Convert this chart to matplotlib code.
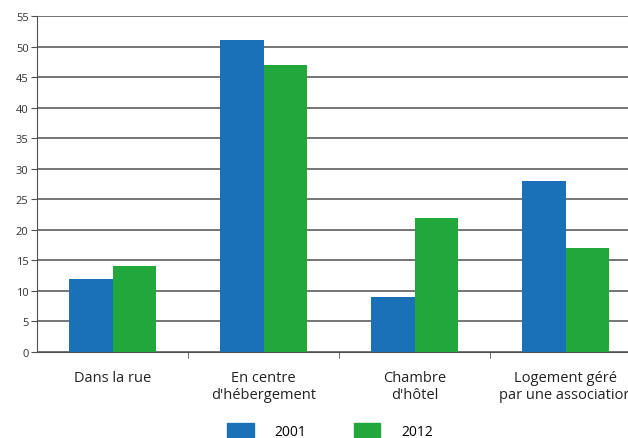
import numpy as np
import matplotlib.pyplot as plt
from matplotlib.patches import Patch

categories = ["Dans la rue", "En centre\nd'hébergement", "Chambre\nd'hôtel",
              "Logement géré\npar une association"]
years = ["2001", "2012"]
values_2001 = [12, 51, 9, 28]
values_2012 = [14, 47, 22, 17]

blue = '#1a71b8'
green = '#22a83a'
grid_col = '#505050'

plt.rcParams['font.family'] = ['Open Sans', 'DejaVu Sans']

fig = plt.figure(figsize=(6.28, 4.39), dpi=100)
# the plot area runs past the right edge of the figure
ax = fig.add_axes([37 / 628, 86 / 439, 604 / 628, 336 / 439])

x = np.arange(len(categories))
w = 0.29
ax.bar(x - w / 2, values_2001, w, color=blue, zorder=3)
ax.bar(x + w / 2, values_2012, w, color=green, zorder=3)

ax.set_xlim(-0.5, len(categories) - 0.5)
ax.set_ylim(0, 55)
ax.set_yticks(range(0, 56, 5))
ax.yaxis.grid(True, color=grid_col, linewidth=1.1, zorder=0)
ax.tick_params(axis='y', length=4, color=grid_col, labelsize=8,
               labelcolor='#333333', pad=2)

ax.set_xticks(x)
ax.set_xticklabels(categories, fontsize=10.5, color='#222222', linespacing=1.15)
ax.tick_params(axis='x', length=0, pad=13)
ax.set_xticks(np.arange(0.5, len(categories) - 0.5), minor=True)
ax.tick_params(axis='x', which='minor', length=4, color=grid_col)

for side in ['top', 'right']:
    ax.spines[side].set_visible(False)
ax.spines['left'].set_color(grid_col)
ax.spines['bottom'].set_color(grid_col)

handles = [Patch(color=blue), Patch(color=green)]
fig.legend(handles, years, loc='center', bbox_to_anchor=(330 / 628, 1 - 432 / 439),
           ncol=2, frameon=False, fontsize=10, handlelength=1.9, handleheight=1.4,
           handletextpad=1.5, columnspacing=3.4)

fig.savefig('out.png', dpi=100)
